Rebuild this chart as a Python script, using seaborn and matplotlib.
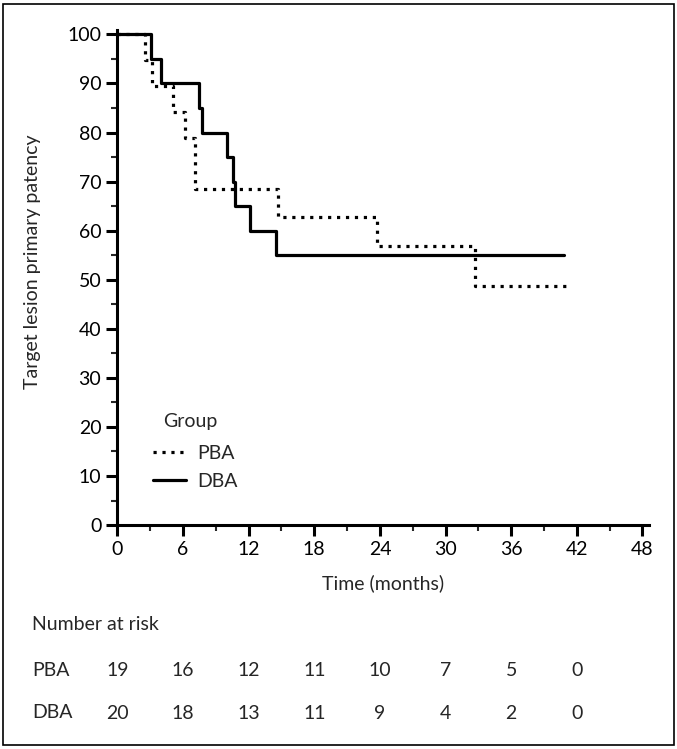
import numpy as np
import pandas as pd
import matplotlib
matplotlib.use("Agg")
import matplotlib.pyplot as plt
import seaborn as sns

# survival curve vertices (time in months, % patency)
pba_time = [0, 2.5, 3.2, 5.1, 6.2, 7.06, 14.7, 23.7, 32.7, 41.0]
pba_surv = [100, 94.7, 89.5, 84.2, 78.9, 68.4, 62.7, 56.9, 48.8, 48.8]
dba_time = [0, 3.05, 3.97, 7.5, 7.7, 10.0, 10.6, 10.8, 12.15, 14.5, 40.8]
dba_surv = [100, 95, 90, 85, 80, 75, 70, 65, 60, 55, 55]

risk_times = [0, 6, 12, 18, 24, 30, 36, 42]
pba_risk = [19, 16, 12, 11, 10, 7, 5, 0]
dba_risk = [20, 18, 13, 11, 9, 4, 2, 0]

sns.set_theme(style="ticks")
plt.rcParams['font.family'] = ['Lato', 'DejaVu Sans']
fs = 14

df = pd.concat([
    pd.DataFrame({"time": pba_time, "surv": pba_surv, "Group": "PBA"}),
    pd.DataFrame({"time": dba_time, "surv": dba_surv, "Group": "DBA"}),
])

fig = plt.figure(figsize=(6.77, 7.49), dpi=100)
ax = fig.add_axes([0.1733, 0.299, 0.7854, 0.661])

sns.lineplot(
    data=df, x="time", y="surv", hue="Group", style="Group",
    palette={"PBA": "black", "DBA": "black"},
    dashes={"PBA": (1, 1.8), "DBA": ""},
    estimator=None, sort=False, drawstyle="steps-post",
    linewidth=2.3, ax=ax
)

ax.set_xlim(0, 48.6)
ax.set_ylim(0, 100.9)
ax.set_xticks(np.arange(0, 49, 6))
ax.set_xticks(np.arange(3, 49, 6), minor=True)
ax.set_yticks(np.arange(0, 101, 10))
ax.set_yticks(np.arange(5, 100, 10), minor=True)
ax.tick_params(axis="both", which="major", length=8, width=2.2, labelsize=fs, colors="black")
ax.tick_params(axis="both", which="minor", length=4, width=1.5)
for s in ["left", "bottom"]:
    ax.spines[s].set_linewidth(2.2)
    ax.spines[s].set_color("black")
ax.spines["top"].set_visible(False)
ax.spines["right"].set_visible(False)

ax.set_xlabel("Time (months)", fontsize=fs, labelpad=12)
ax.set_ylabel("")
fig.text(0.048, 0.65, "Target lesion primary patency", rotation=90,
         ha="center", va="center", fontsize=fs)

# legend without title, "Group" written above it slightly indented
leg = ax.legend(frameon=False, loc="upper left",
                bbox_to_anchor=(0.035, 0.197), fontsize=fs,
                handlelength=1.65, handletextpad=0.6, labelspacing=0.55)
ax.text(0.0865, 0.21, "Group", transform=ax.transAxes, ha="left", va="center", fontsize=fs)

# number at risk table
trans = ax.get_xaxis_transform()
fig.text(0.048, 1 - 625 / 749, "Number at risk", ha="left", va="center", fontsize=fs)
for label, vals, py in [("PBA", pba_risk, 670), ("DBA", dba_risk, 713)]:
    y = 1 - py / 749
    fig.text(0.048, y, label, ha="left", va="center", fontsize=fs)
    for t, v in zip(risk_times, vals):
        ax.text(t, -(py - 525) / 495, str(v), transform=trans,
                ha="center", va="center", fontsize=fs, clip_on=False)

# outer frame
fig.patches.append(plt.Rectangle((0.005, 0.005), 0.99, 0.99, transform=fig.transFigure,
                                 fill=False, edgecolor="black", linewidth=1.2))

fig.savefig("out.png", dpi=100)
